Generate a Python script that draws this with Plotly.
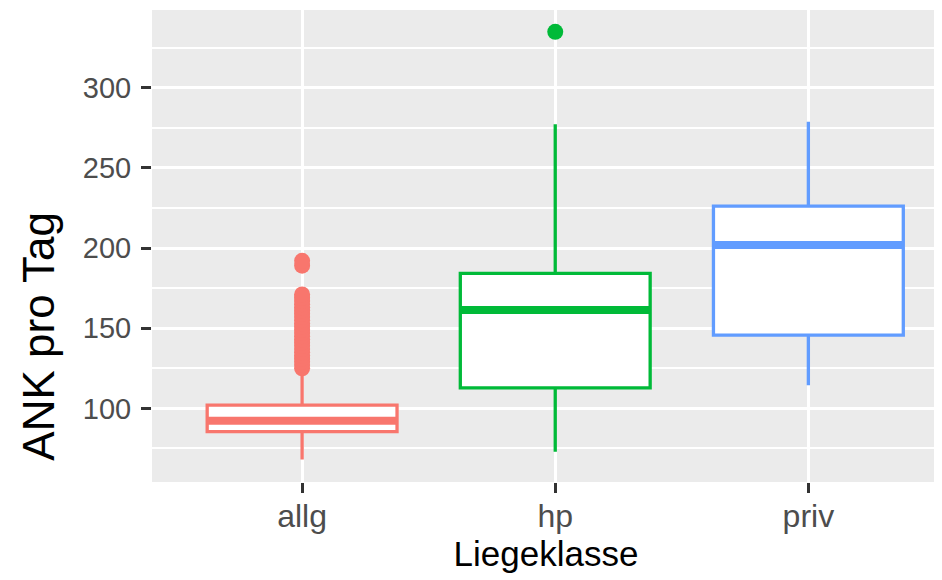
import plotly.graph_objects as go

categories = ["allg", "hp", "priv"]
colors = ["#F8766D", "#00BA38", "#619CFF"]
q1 = [85.5, 112.8, 145.7]
median = [92.3, 161.3, 201.8]
q3 = [102.0, 184.2, 226.1]
lower_whisker = [68.2, 73.0, 114.5]
upper_whisker = [124.0, 277.2, 278.7]
outliers = [
    [125, 127, 129, 131, 133, 135, 137, 139, 141, 143, 145, 147, 149, 151, 153,
     155, 157, 159, 161, 163, 165, 167, 169, 171, 189, 192],
    [334.8],
    [],
]
y_ticks = [100, 150, 200, 250, 300]

box_width = 0.75
fig = go.Figure()
for i, cat in enumerate(categories):
    fig.add_trace(go.Box(
        x=[i], q1=[q1[i]], median=[median[i]], q3=[q3[i]],
        lowerfence=[lower_whisker[i]], upperfence=[upper_whisker[i]],
        width=box_width, whiskerwidth=0, fillcolor="white",
        line=dict(color=colors[i], width=3.3), boxpoints=False,
        showlegend=False, hoverinfo="skip", name=cat,
    ))
    fig.add_trace(go.Scatter(
        x=[i - box_width / 2, i + box_width / 2], y=[median[i], median[i]],
        mode="lines", line=dict(color=colors[i], width=8),
        showlegend=False, hoverinfo="skip",
    ))
    if outliers[i]:
        fig.add_trace(go.Scatter(
            x=[i] * len(outliers[i]), y=outliers[i], mode="markers",
            marker=dict(color=colors[i], size=16, line=dict(width=0)),
            showlegend=False, hoverinfo="skip",
        ))

fig.update_layout(
    width=934, height=572,
    margin=dict(l=144, r=2, t=2, b=98, autoexpand=False),
    paper_bgcolor="white", plot_bgcolor="#EBEBEB",
    font=dict(family="Liberation Sans, Arial, sans-serif"),
    annotations=[dict(
        text="ANK pro Tag", textangle=-90, showarrow=False,
        xref="paper", yref="paper", x=-0.144, y=0.309,
        xanchor="center", yanchor="middle",
        font=dict(size=44, color="black"),
    )],
)
fig.update_xaxes(
    range=[-0.593, 2.52], tickvals=[0, 1, 2], ticktext=categories,
    automargin=False, ticklabelstandoff=-4,
    showgrid=True, gridcolor="white", gridwidth=3, zeroline=False,
    ticks="outside", ticklen=10, tickwidth=3, tickcolor="#333333",
    tickfont=dict(size=32, color="#4D4D4D"),
    title=dict(text="Liegeklasse", font=dict(size=35, color="black"), standoff=4),
)
fig.update_yaxes(
    range=[54.1, 348.4], tickvals=y_ticks,
    automargin=False, ticklabelstandoff=4,
    showgrid=True, gridcolor="white", gridwidth=3, zeroline=False,
    ticks="outside", ticklen=10, tickwidth=3, tickcolor="#333333",
    tickfont=dict(size=29, color="#4D4D4D"),
    minor=dict(dtick=25, tick0=0, showgrid=True, gridcolor="white", gridwidth=1.5, ticks=""),
)
fig.write_html("out.html")
